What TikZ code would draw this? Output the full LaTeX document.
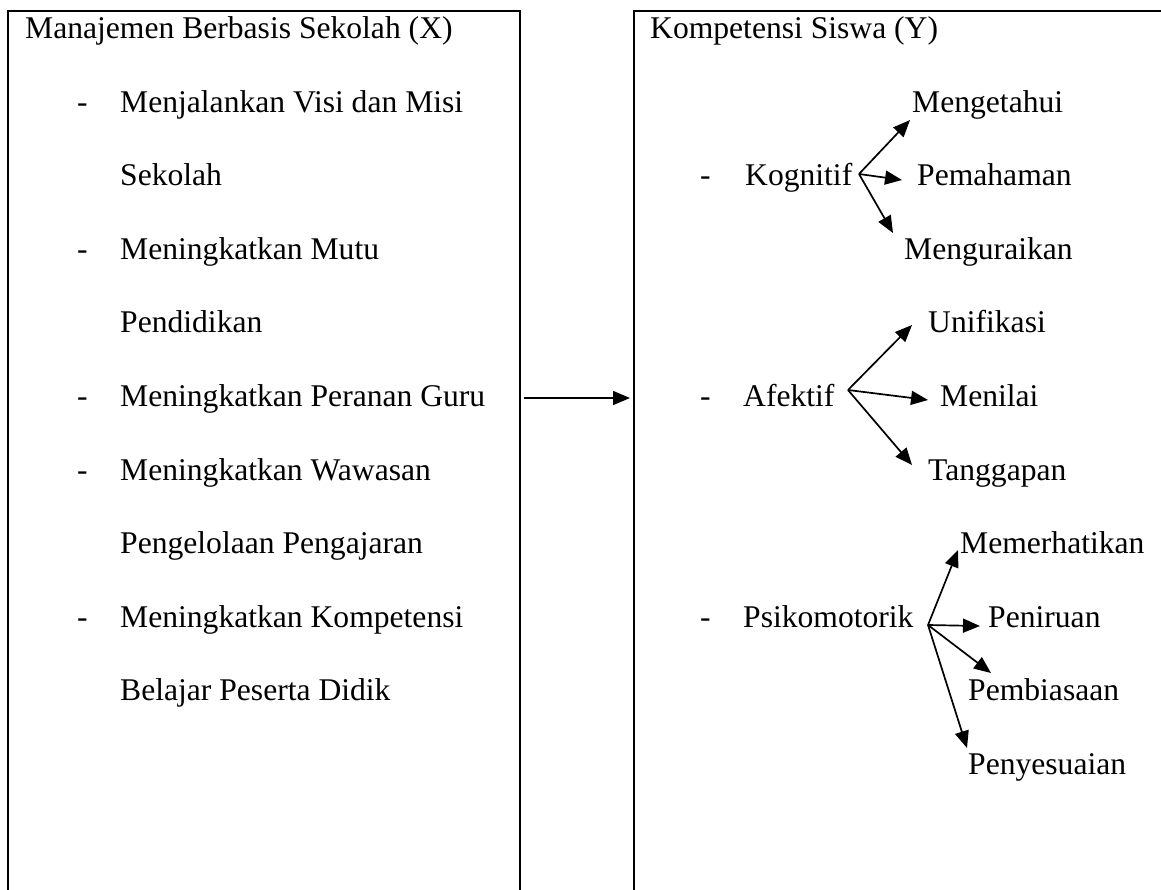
\documentclass[tikz,border=0pt]{standalone}
\usepackage{fontspec}
\setmainfont{Liberation Serif}
\usetikzlibrary{arrows.meta}
\begin{document}
\begin{tikzpicture}[x=1pt,y=-1pt,
  txt/.style={anchor=base west,inner sep=0pt,font=\fontsize{31.6}{38}\selectfont},
  boxline/.style={line width=2.6pt},
  arr/.style={line width=1.7pt,-{Triangle[length=17pt,width=14pt]}}]
\useasboundingbox (0,0) rectangle (1161,890);
% boxes (open at the bottom / right)
\draw[boxline] (8,905) -- (8,11) -- (520,11) -- (520,905);
\draw[boxline] (634,905) -- (634,11) -- (1175,11);
% left column
\node[txt] (xt) at (25,39) {Manajemen Berbasis Sekolah (X)};
\node[txt] (d1) at (77,112.5) {-};
\node[txt] (l1) at (120,112.5) {Menjalankan Visi dan Misi};
\node[txt] (l2) at (120,186) {Sekolah};
\node[txt] (d3) at (77,259.5) {-};
\node[txt] (l3) at (120,259.5) {Meningkatkan Mutu};
\node[txt] (l4) at (120,333) {Pendidikan};
\node[txt] (d5) at (77,406.5) {-};
\node[txt] (l5) at (120,406.5) {Meningkatkan Peranan Guru};
\node[txt] (d6) at (77,480) {-};
\node[txt] (l6) at (120,480) {Meningkatkan Wawasan};
\node[txt] (l7) at (120,553.5) {Pengelolaan Pengajaran};
\node[txt] (d8) at (77,627) {-};
\node[txt] (l8) at (120,627) {Meningkatkan Kompetensi};
\node[txt] (l9) at (120,700.5) {Belajar Peserta Didik};
% right column
\node[txt] (yt) at (650,39) {Kompetensi Siswa (Y)};
\node[txt] (r2d) at (700,186) {-};
\node[txt] (kog) at (745,186) {Kognitif};
\node[txt] (r5d) at (700,406.5) {-};
\node[txt] (afk) at (743,406.5) {Afektif};
\node[txt] (r8d) at (700,627) {-};
\node[txt] (psi) at (743,627) {Psikomotorik};
\node[txt] (k1) at (912,112.5) {Mengetahui};
\node[txt] (k2) at (917,186) {Pemahaman};
\node[txt] (k3) at (904,259.5) {Menguraikan};
\node[txt] (a1) at (928,333) {Unifikasi};
\node[txt] (a2) at (940,406.5) {Menilai};
\node[txt] (a3) at (928,480) {Tanggapan};
\node[txt] (p1) at (960,553.5) {Memerhatikan};
\node[txt] (p2) at (988,627) {Peniruan};
\node[txt] (p3) at (968,700.5) {Pembiasaan};
\node[txt] (p4) at (968,774) {Penyesuaian};
% fork points and arrow tips
\coordinate (kf) at (859,174);
\coordinate (af) at (848,390);
\coordinate (pf) at (928,625);
\coordinate (k1t) at (910,120);
\coordinate (k2t) at (902,180);
\coordinate (k3t) at (893,233);
\coordinate (a1t) at (912,325);
\coordinate (a2t) at (928,400);
\coordinate (a3t) at (912,465);
\coordinate (p1t) at (958,550);
\coordinate (p2t) at (980,626);
\coordinate (p3t) at (991,673);
\coordinate (p4t) at (967,748);
\coordinate (ms) at (524,398);
\coordinate (me) at (630,398);
\draw[arr] (kf) -- (k1t);
\draw[arr] (kf) -- (k2t);
\draw[arr] (kf) -- (k3t);
\draw[arr] (af) -- (a1t);
\draw[arr] (af) -- (a2t);
\draw[arr] (af) -- (a3t);
\draw[arr] (pf) -- (p1t);
\draw[arr] (pf) -- (p2t);
\draw[arr] (pf) -- (p3t);
\draw[arr] (pf) -- (p4t);
\draw[arr] (ms) -- (me);
\end{tikzpicture}
\end{document}
